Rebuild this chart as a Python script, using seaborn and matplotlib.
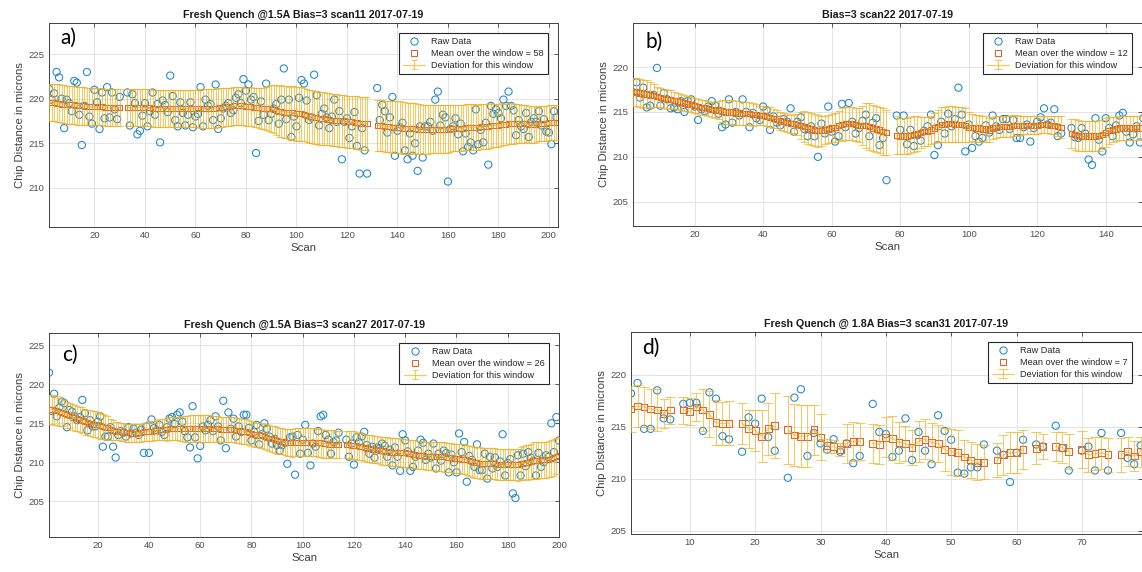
import numpy as np
import pandas as pd
import matplotlib
matplotlib.use("Agg")
import matplotlib.pyplot as plt
import seaborn as sns
from matplotlib.lines import Line2D

nan = np.nan

# ---------------- panel a: scan11, window 58 ----------------
raw_a_start = 2
raw_a = [
    221.1, 219.9, 220.6, 223.0, 222.4, 220.0, 216.7, 219.9, 219.5, 218.6,
    222.0, 221.8, 218.2, 214.8, 219.2, 223.0, 218.0, 217.2, 221.0, 219.6,
    216.6, 220.7, 217.8, 221.3, 217.9, 220.7, 218.8, 217.7, 220.2, nan,
    nan, 220.7, 217.0, 220.5, 219.5, 216.0, 216.4, 218.1, 219.5, 216.9,
    218.6, 220.7, 218.2, 219.4, 215.1, 219.8, 219.3, 218.5, 222.6, 220.3,
    217.6, 216.9, 219.6, 218.4, 217.0, 218.2, 219.6, 216.8, 218.0, 218.3,
    221.3, 216.9, 219.9, 219.2, 219.4, 217.6, 221.6, 216.6, 217.8, 218.9,
    219.2, 219.5, 218.4, 218.7, 220.1, 220.5, 219.5, 222.2, 220.9, 221.6,
    219.9, 220.2, 213.9, 217.5, 219.7, 218.2, 221.7, 217.6, 218.3, 218.9,
    219.4, 217.2, 219.9, 223.4, 217.7, 219.9, 215.7, 218.0, 216.9, 220.1,
    222.1, 221.7, 219.8, 217.6, 217.9, 222.7, 220.4, 217.0, 218.3, 218.9,
    217.9, 216.7, 218.0, 219.9, 217.4, 218.6, 213.2, 217.4, 217.8, 215.6,
    216.9, 218.5, 214.7, 211.6, 216.7, 214.2, 211.6, nan, nan, nan,
    221.2, 217.6, 219.3, 218.6, 216.2, 217.9, 220.2, 213.6, 216.4, 216.8,
    217.3, 214.2, 213.2, 216.1, 213.6, 215.0, 211.9, 216.9, 213.4, 216.9,
    216.9, 217.4, 216.4, 219.9, 220.8, 217.0, 218.2, 217.9, 210.7, 216.6,
    216.9, 217.8, 216.0, 217.2, 214.1, 216.1, 214.6, 215.1, 214.2, 218.8,
    214.9, 216.5, 215.1, 217.3, 212.6, 219.2, 218.3, 218.8, 218.4, 217.8,
    219.9, 219.2, 220.8, 219.2, 218.7, 215.9, 217.6, 216.9, 216.6, 218.4,
    215.7, 217.4, 217.8, 217.4, 218.6, 217.0, 217.7, 216.3, 216.2, 214.9,
    218.6, 217.9,
]
mean_a_start = 2
mean_a = [
    219.6, 219.6, 219.6, 219.5, 219.5, 219.4, 219.4, 219.3, 219.3, 219.3,
    219.3, 219.2, 219.2, 219.2, 219.2, 219.1, 219.1, 219.1, 219.1, 219.1,
    219.1, 219.1, 219.0, 219.0, 219.0, 219.0, 219.0, 219.0, 219.0, nan,
    nan, 219.0, 219.0, 219.0, 219.0, 219.0, 219.0, 219.0, 219.0, 219.0,
    219.0, 218.9, 218.9, 218.9, 218.9, 218.9, 218.9, 218.9, 218.9, 218.9,
    218.9, 218.9, 218.9, 218.9, 218.9, 218.9, 218.9, 218.9, 218.9, 218.9,
    218.9, 218.9, 218.9, 218.9, 218.9, 218.9, 218.9, 219.0, 219.0, 219.0,
    219.1, 219.1, 219.1, 219.2, 219.2, 219.2, 219.2, 219.2, 219.1, 219.1,
    219.1, 219.0, 219.0, 219.0, 218.9, 218.9, 218.9, 218.9, 218.9, 218.8,
    218.7, 218.6, 218.6, 218.5, 218.5, 218.4, 218.4, 218.4, 218.3, 218.3,
    218.3, 218.2, 218.1, 218.0, 218.0, 217.9, 217.9, 217.8, 217.8, 217.8,
    217.7, 217.7, 217.6, 217.6, 217.6, 217.5, 217.5, 217.5, 217.4, 217.4,
    217.4, 217.3, 217.3, 217.2, 217.2, 217.2, 217.2, nan, nan, nan,
    217.0, 217.0, 217.0, 216.9, 216.9, 216.9, 216.8, 216.8, 216.8, 216.8,
    216.7, 216.7, 216.7, 216.7, 216.7, 216.7, 216.6, 216.6, 216.6, 216.6,
    216.6, 216.6, 216.6, 216.6, 216.6, 216.6, 216.6, 216.6, 216.6, 216.7,
    216.7, 216.7, 216.7, 216.7, 216.7, 216.8, 216.8, 216.8, 216.8, 216.8,
    216.8, 216.9, 216.9, 216.9, 216.9, 217.0, 217.0, 217.0, 217.0, 217.1,
    217.1, 217.1, 217.2, 217.2, 217.2, 217.2, 217.2, 217.2, 217.2, 217.2,
    217.1, 217.1, 217.1, 217.1, 217.2, 217.2, 217.2, 217.2, 217.3, 217.3,
    217.3, 217.3,
]
dev_a = [
    2.1, 2.1, 2.1, 2.1, 2.1, 2.1, 2.1, 2.1, 2.1, 2.1,
    2.1, 2.1, 2.1, 2.1, 2.1, 2.1, 2.05, 2.05, 2.05, 2.05,
    2.05, 2.05, 2.05, 2.05, 2.05, 2.05, 2.05, 2.05, 2.05, nan,
    nan, 2.05, 2.05, 2.05, 2.05, 2.05, 2.05, 2.05, 2.05, 2.05,
    2.05, 2.05, 2.05, 2.05, 2.05, 2.1, 2.1, 2.1, 2.1, 2.1,
    2.1, 2.1, 2.1, 2.1, 2.1, 2.1, 2.1, 2.1, 2.1, 2.1,
    2.15, 2.15, 2.15, 2.15, 2.15, 2.15, 2.15, 2.15, 2.15, 2.15,
    2.15, 2.15, 2.15, 2.15, 2.15, 2.15, 2.15, 2.15, 2.15, 2.15,
    2.2, 2.2, 2.2, 2.25, 2.3, 2.35, 2.4, 2.5, 2.6, 2.7,
    2.8, 2.85, 2.9, 2.9, 2.95, 2.95, 3.0, 3.0, 3.0, 3.0,
    3.0, 3.0, 3.0, 3.0, 3.0, 3.0, 3.0, 3.0, 3.0, 3.0,
    2.95, 2.95, 2.95, 2.95, 2.95, 2.95, 2.95, 2.95, 2.95, 2.95,
    2.95, 2.95, 2.95, 2.95, 2.95, 2.95, 2.95, nan, nan, nan,
    2.9, 2.9, 2.9, 2.9, 2.9, 2.9, 2.9, 2.9, 2.9, 2.9,
    2.9, 2.9, 2.85, 2.85, 2.85, 2.8, 2.8, 2.8, 2.75, 2.75,
    2.75, 2.7, 2.7, 2.7, 2.7, 2.7, 2.7, 2.65, 2.65, 2.65,
    2.6, 2.6, 2.6, 2.6, 2.6, 2.6, 2.6, 2.6, 2.6, 2.6,
    2.55, 2.55, 2.5, 2.5, 2.5, 2.5, 2.45, 2.45, 2.4, 2.4,
    2.35, 2.35, 2.3, 2.3, 2.25, 2.2, 2.2, 2.15, 2.15, 2.1,
    2.1, 2.05, 2.05, 2.0, 2.0, 2.0, 1.95, 1.95, 1.95, 1.95,
    1.95, 1.95,
]

# ---------------- panel b: scan22, window 12 ----------------
raw_b_start = 2
raw_b = [
    217.2, 218.3, 216.6, 217.7, 215.5, 215.7, 216.9, 219.9, 215.7, 217.1,
    216.4, 215.4, 215.5, 215.3, 216.2, 215.0, 216.2, 216.4, 215.6, 214.1,
    215.3, 215.1, 215.6, 216.2, 215.7, 214.8, 213.3, 213.6, 216.4, 213.8,
    215.0, 214.6, 216.4, 215.0, 213.3, 214.9, 214.3, 214.1, 215.6, 215.2,
    213.0, 214.5, 213.8, 213.5, 214.2, 213.9, 215.4, 212.8, 213.9, 214.4,
    213.1, 212.3, 213.4, 212.3, 210.0, 213.7, 212.6, 215.6, 212.8, 211.7,
    212.3, 215.9, 213.3, 216.0, 213.9, 212.6, 213.2, 214.0, 214.7, 212.3,
    213.8, 214.3, 211.3, 212.1, 207.4, nan, nan, 214.6, 213.0, 214.6,
    211.4, 213.0, 211.2, 212.4, 211.8, 212.9, 213.4, 214.7, 210.2, 211.3,
    213.9, 212.6, 214.8, 213.4, 214.2, 217.7, 214.7, 210.6, 213.6, 211.0,
    212.3, 211.7, 212.1, 213.5, 212.7, 214.6, 213.4, 213.0, 214.2, 214.2,
    213.1, 214.1, 212.1, 212.1, 213.3, 213.6, 211.7, 213.2, 213.9, 214.4,
    215.4, 213.6, 213.8, 215.3, 212.3, 212.6, nan, nan, 213.2, 212.2,
    212.1, 213.2, 212.6, 209.7, 209.1, 214.3, 211.9, 210.6, 214.3, 213.2,
    212.3, 213.5, 214.6, 214.9, 212.8, 211.6, 212.5, 213.4, 211.6, 214.3,
]
mean_b_start = 2
mean_b = [
    217.2, 217.2, 217.1, 217.0, 217.0, 216.9, 216.8, 216.7, 216.6, 216.5,
    216.4, 216.4, 216.3, 216.2, 216.1, 216.0, 215.9, 215.8, 215.7, 215.6,
    215.5, 215.5, 215.4, 215.3, 215.2, 215.2, 215.1, 215.0, 215.0, 215.0,
    214.9, 214.9, 214.8, 214.8, 214.8, 214.7, 214.7, 214.6, 214.6, 214.5,
    214.4, 214.3, 214.2, 214.0, 213.9, 213.8, 213.7, 213.7, 213.6, 213.5,
    213.4, 213.2, 213.1, 213.0, 212.9, 212.9, 213.0, 213.1, 213.2, 213.3,
    213.5, 213.6, 213.7, 213.7, 213.7, 213.6, 213.5, 213.5, 213.5, 213.4,
    213.2, 213.1, 213.0, 212.8, 212.7, nan, nan, 212.4, 212.3, 212.3,
    212.3, 212.4, 212.5, 212.6, 212.7, 212.8, 212.8, 213.0, 213.2, 213.4,
    213.6, 213.6, 213.7, 213.7, 213.6, 213.6, 213.6, 213.5, 213.3, 213.3,
    213.2, 213.2, 213.1, 213.1, 213.0, 213.2, 213.3, 213.4, 213.4, 213.4,
    213.4, 213.5, 213.5, 213.5, 213.5, 213.5, 213.5, 213.5, 213.5, 213.6,
    213.6, 213.6, 213.5, 213.5, 213.4, 213.3, nan, nan, 212.6, 212.5,
    212.4, 212.3, 212.3, 212.3, 212.3, 212.3, 212.4, 212.5, 212.7, 212.9,
    213.0, 213.1, 213.2, 213.2, 213.2, 213.2, 213.2, 213.2, 213.2,
]
dev_b = [
    1.55, 1.55, 1.55, 1.55, 1.5, 1.45, 1.3, 1.1, 1.05, 1.05,
    1.05, 1.0, 0.95, 0.9, 0.85, 0.85, 0.85, 0.85, 0.85, 0.85,
    0.85, 0.85, 0.85, 0.85, 0.9, 1.0, 1.2, 1.3, 1.3, 1.3,
    1.3, 1.3, 1.3, 1.3, 1.3, 1.25, 1.2, 1.1, 1.1, 1.1,
    1.1, 1.05, 1.0, 1.0, 1.0, 1.0, 1.0, 1.05, 1.2, 1.5,
    1.7, 1.75, 1.75, 1.75, 1.75, 1.7, 1.6, 1.6, 1.6, 1.6,
    1.65, 1.8, 1.8, 1.8, 1.8, 1.8, 1.9, 2.2, 2.5, 2.6,
    2.6, 2.6, 2.6, 2.6, 2.5, nan, nan, 2.1, 2.0, 2.0,
    2.0, 2.0, 2.0, 1.9, 1.7, 1.6, 1.6, 1.6, 1.7, 1.8,
    2.0, 2.0, 2.0, 2.0, 2.0, 2.0, 2.0, 1.9, 1.7, 1.5,
    1.5, 1.5, 1.5, 1.4, 1.3, 1.2, 1.2, 1.2, 1.2, 1.2,
    1.2, 1.2, 1.2, 1.1, 1.0, 1.0, 1.0, 1.0, 1.0, 1.0,
    1.0, 1.0, 1.0, 1.0, 1.1, 1.2, nan, nan, 1.6, 1.7,
    1.7, 1.7, 1.7, 1.7, 1.7, 1.7, 1.7, 1.65, 1.6, 1.5,
    1.4, 1.35, 1.3, 1.3, 1.3, 1.3, 1.3, 1.3, 1.3,
]

# ---------------- panel c: scan27, window 26 ----------------
raw_c_start = 1
raw_c = [
    221.5, 216.6, 218.8, 215.9, 217.0, 217.8, 217.6, 214.5, 216.7, 216.5,
    215.9, 215.4, 215.8, 218.0, 216.3, 214.1, 215.4, 214.6, 214.6, 215.2,
    215.9, 212.0, 213.3, 213.3, 214.5, 212.0, 210.6, 213.5, 214.0, 213.8,
    213.3, 214.5, 213.7, 214.3, 213.8, 213.5, 214.2, 211.2, 214.6, 211.2,
    215.5, 214.4, 214.1, 214.8, 213.9, 213.5, 214.5, 215.6, 215.8, 214.9,
    216.1, 216.4, 215.2, 214.0, 213.2, 211.9, 217.2, 213.2, 210.5, 212.1,
    214.6, 214.1, 214.8, 215.4, 214.0, 215.9, 214.6, 212.8, 217.9, 211.8,
    216.4, 214.3, 215.6, 213.3, 214.6, 213.9, 216.1, 216.1, 214.4, 212.8,
    213.9, 214.8, 212.3, 213.6, 215.0, 214.3, 213.3, 212.4, 213.0, 212.2,
    211.5, 212.2, 212.5, 209.8, 213.2, 213.3, 208.4, 213.5, 211.1, 212.9,
    214.8, 211.2, 209.6, 212.4, 212.0, 214.0, 215.9, 216.1, 213.5, 212.9,
    211.1, 212.6, 212.8, 213.8, nan, nan, 212.9, 210.7, 212.4, 209.7,
    213.2, 212.6, 213.3, 213.9, 212.2, 211.1, 212.0, 210.6, 211.9, 211.8,
    212.4, 212.1, 210.7, 211.6, 209.6, 211.9, 210.7, 208.9, 213.6, 212.8,
    211.4, 208.9, 209.4, 210.7, 211.5, 212.9, 212.5, 210.3, 211.1, 210.6,
    212.4, 209.2, 211.1, 210.2, 211.5, 211.2, 208.7, 211.0, 210.0, 208.7,
    213.7, 211.3, 212.6, 207.5, 210.8, 210.3, 209.4, 212.3, 209.0, 209.0,
    211.1, 207.9, 210.7, 209.2, 210.6, 209.4, 210.1, 213.6, 208.3, 209.9,
    210.4, 206.0, 205.4, 210.9, 208.3, 211.1, 209.5, 211.3, 210.6, 210.2,
    208.3, 211.2, 209.4, 210.0, 210.9, 210.7, 215.0, 211.3, 215.8, 212.8,
]
mean_c_start = 1
mean_c = [
    216.8, 216.8, 216.7, 216.6, 216.5, 216.4, 216.3, 216.1, 216.0, 215.8,
    215.7, 215.6, 215.5, 215.4, 215.2, 215.1, 215.0, 214.9, 214.9, 214.8,
    214.7, 214.6, 214.5, 214.4, 214.2, 214.1, 214.0, 214.0, 213.9, 213.9,
    213.8, 213.8, 213.7, 213.7, 213.7, 213.8, 213.8, 213.9, 213.9, 214.0,
    214.0, 214.1, 214.1, 214.2, 214.2, 214.2, 214.2, 214.3, 214.3, 214.3,
    214.3, 214.3, 214.3, 214.3, 214.3, 214.3, 214.3, 214.3, 214.3, 214.3,
    214.3, 214.3, 214.3, 214.3, 214.3, 214.3, 214.3, 214.2, 214.2, 214.2,
    214.2, 214.2, 214.2, 214.1, 214.1, 214.0, 213.9, 213.9, 213.8, 213.7,
    213.6, 213.5, 213.5, 213.4, 213.3, 213.2, 213.1, 213.0, 212.9, 212.8,
    212.7, 212.7, 212.6, 212.5, 212.5, 212.5, 212.6, 212.6, 212.6, 212.6,
    212.6, 212.6, 212.6, 212.6, 212.6, 212.5, 212.5, 212.4, 212.4, 212.3,
    212.3, 212.3, 212.3, 212.3, nan, nan, 212.3, 212.3, 212.2, 212.2,
    212.1, 212.0, 212.0, 211.9, 211.8, 211.8, 211.7, 211.6, 211.6, 211.5,
    211.5, 211.4, 211.4, 211.3, 211.3, 211.3, 211.3, 211.2, 211.2, 211.2,
    211.1, 211.1, 211.0, 211.0, 210.9, 210.9, 210.9, 210.8, 210.8, 210.8,
    210.8, 210.7, 210.7, 210.7, 210.7, 210.6, 210.6, 210.6, 210.5, 210.5,
    210.5, 210.4, 210.4, 210.3, 210.2, 210.1, 210.0, 210.0, 209.9, 209.8,
    209.8, 209.8, 209.8, 209.8, 209.8, 209.7, 209.7, 209.7, 209.7, 209.7,
    209.7, 209.7, 209.7, 209.7, 209.8, 209.9, 210.0, 210.0, 210.1, 210.2,
    210.2, 210.2, 210.3, 210.3, 210.3, 210.4, 210.5, 210.6, 210.8, 210.9,
]
dev_c = [
    1.9, 1.9, 1.9, 1.85, 1.8, 1.7, 1.65, 1.65, 1.65, 1.65,
    1.65, 1.65, 1.65, 1.65, 1.65, 1.65, 1.65, 1.65, 1.65, 1.65,
    1.65, 1.6, 1.55, 1.5, 1.4, 1.3, 1.2, 1.15, 1.15, 1.15,
    1.15, 1.15, 1.15, 1.15, 1.15, 1.15, 1.15, 1.2, 1.2, 1.25,
    1.25, 1.25, 1.3, 1.3, 1.35, 1.4, 1.45, 1.5, 1.5, 1.5,
    1.5, 1.55, 1.6, 1.65, 1.7, 1.75, 1.75, 1.75, 1.75, 1.75,
    1.75, 1.75, 1.75, 1.75, 1.7, 1.65, 1.6, 1.6, 1.6, 1.6,
    1.6, 1.6, 1.6, 1.6, 1.6, 1.6, 1.6, 1.6, 1.6, 1.6,
    1.6, 1.6, 1.6, 1.6, 1.65, 1.65, 1.7, 1.7, 1.7, 1.7,
    1.7, 1.7, 1.7, 1.75, 1.75, 1.8, 1.8, 1.8, 1.8, 1.8,
    1.8, 1.8, 1.8, 1.8, 1.8, 1.8, 1.8, 1.8, 1.8, 1.8,
    1.8, 1.8, 1.75, 1.75, nan, nan, 1.75, 1.75, 1.75, 1.75,
    1.75, 1.75, 1.75, 1.75, 1.75, 1.75, 1.75, 1.75, 1.75, 1.75,
    1.8, 1.8, 1.8, 1.8, 1.8, 1.8, 1.8, 1.8, 1.8, 1.8,
    1.8, 1.8, 1.8, 1.8, 1.8, 1.8, 1.8, 1.8, 1.8, 1.8,
    1.85, 1.85, 1.85, 1.85, 1.9, 1.9, 1.9, 1.9, 1.9, 1.9,
    1.9, 1.9, 1.95, 1.95, 1.95, 2.0, 2.0, 2.0, 2.0, 2.0,
    2.0, 2.0, 2.0, 2.0, 2.0, 2.0, 2.0, 2.0, 2.0, 2.0,
    2.0, 2.0, 2.0, 2.05, 2.1, 2.15, 2.2, 2.25, 2.3, 2.35,
    2.35, 2.35, 2.35, 2.35, 2.35, 2.35, 2.35, 2.35, 2.35, 2.35,
]

# ---------------- panel d: scan31, window 7 ----------------
raw_d_start = 1
raw_d = [
    218.2, 219.2, 214.8, 214.8, 218.5, 215.8, 215.7, nan, 217.2, 217.3,
    217.3, 214.6, 218.3, 217.7, 214.1, 213.8, nan, 212.6, 215.9, 215.3,
    217.7, 214.0, 212.7, nan, 210.1, 217.8, 218.6, 212.2, 214.4, 213.4,
    212.8, 213.8, 212.6, 213.4, 211.5, 212.2, nan, 217.2, 214.5, 214.3,
    212.1, 212.7, 215.8, 211.8, 214.5, 212.7, 211.4, 216.1, 214.6, 213.75,
    210.6, 210.5, 211.1, 211.1, 213.3, nan, 212.7, 212.3, 209.7, 212.5,
    213.75, nan, 213.3, 213.1, nan, 215.1, 212.95, 210.8, nan, 212.7,
    213.1, 210.8, 214.4, 210.8, nan, 214.4, 212.0, 211.4, 213.2,
]
mean_d_start = 1
mean_d = [
    216.7, 217.0, 216.9, 216.7, 216.6, 216.3, 216.6, nan, 216.6, 216.5,
    216.9, 216.6, 216.2, 215.4, 215.3, 215.35, nan, 215.3, 214.8, 214.65,
    214.1, 214.8, 215.1, nan, 214.7, 214.2, 214.1, 214.1, 214.7, 214.0,
    213.2, 213.1, 212.8, 213.4, 213.6, 213.6, nan, 213.4, 213.3, 214.0,
    213.9, 213.5, 213.4, 213.0, 213.6, 213.8, 213.5, 213.4, 212.8, 212.6,
    212.5, 212.1, 211.8, 211.6, 211.6, nan, 211.8, 212.3, 212.5, 212.5,
    212.8, nan, 212.95, 213.1, nan, 213.1, 213.0, 212.6, nan, 212.8,
    212.3, 212.4, 212.5, 212.3, nan, 212.3, 212.6, 212.2, 212.6,
]
dev_d = [
    2.2, 2.0, 1.9, 1.9, 2.0, 1.4, 1.3, nan, 1.3, 1.3,
    1.3, 2.0, 2.2, 2.2, 2.1, 2.1, nan, 1.95, 1.8, 2.0,
    2.5, 2.5, 3.1, nan, 3.3, 3.0, 3.0, 3.0, 2.4, 2.2,
    0.6, 0.6, 0.6, 1.9, 1.9, 1.8, nan, 1.9, 1.9, 1.9,
    2.1, 2.0, 1.7, 1.7, 2.0, 1.9, 1.9, 1.8, 2.05, 2.2,
    2.2, 1.65, 1.75, 1.7, 1.6, nan, 1.6, 1.9, 1.95, 1.95,
    1.9, nan, 1.55, 1.2, nan, 1.4, 1.45, 1.7, nan, 1.8,
    1.6, 1.6, 1.55, 1.65, nan, 1.65, 1.4, 1.45, 1.45,
]

titles = [
    "Fresh Quench @1.5A Bias=3 scan11 2017-07-19",
    "Bias=3 scan22 2017-07-19",
    "Fresh Quench @1.5A Bias=3 scan27 2017-07-19",
    "Fresh Quench @ 1.8A Bias=3 scan31 2017-07-19",
]
tags = ["a)", "b)", "c)", "d)"]
windows = [58, 12, 26, 7]
legend_labels = ["Raw Data", "Mean over the window = {}", "Deviation for this window"]

BLUE = "#1f86cc"
RED = "#E0612A"
YELLOW = "#EDB120"
AXC = "#404040"

sns.set_theme(style="white")
plt.rcParams["font.family"] = ["Liberation Sans", "DejaVu Sans"]

W, H = 1142, 572
fig = plt.figure(figsize=(W / 100, H / 100), dpi=100)


def pixel_axes(left, top, right, bottom):
    return fig.add_axes([left / W, 1 - bottom / H, (right - left) / W, (bottom - top) / H])


def draw_panel(ax, raw_start, raw, mean_start, mean, dev, window, title, tag,
               xlim, ylim, xticks, yticks, tag_pos, cap, sq_size):
    raw_df = pd.DataFrame({"Scan": np.arange(raw_start, raw_start + len(raw)),
                           "Distance": raw}).dropna()
    win_df = pd.DataFrame({"Scan": np.arange(mean_start, mean_start + len(mean)),
                           "Mean": mean, "Dev": dev})

    # raw scans as hollow circles
    sns.scatterplot(data=raw_df, x="Scan", y="Distance", ax=ax, marker="o", s=27,
                    facecolor="none", edgecolor=BLUE, linewidth=0.75, zorder=2,
                    legend=False)
    # moving-window mean as hollow squares
    sns.scatterplot(data=win_df.dropna(), x="Scan", y="Mean", ax=ax, marker="s",
                    s=sq_size, facecolor="none", edgecolor=RED, linewidth=0.75,
                    zorder=3, legend=False)
    # moving-window deviation drawn over the means
    eb = ax.errorbar(win_df["Scan"], win_df["Mean"], yerr=win_df["Dev"], fmt="-",
                     color=YELLOW, ecolor=YELLOW, lw=0.9, elinewidth=0.8,
                     capsize=cap, capthick=0.8, alpha=0.68, zorder=4)

    ax.set_xlim(*xlim)
    ax.set_ylim(*ylim)
    ax.set_xticks(xticks)
    ax.set_yticks(yticks)
    ax.set_axisbelow(True)
    ax.grid(True, color="#e3e3e3", linewidth=0.7)
    ax.tick_params(direction="in", length=3, width=0.6, color=AXC, labelsize=6.8,
                   labelcolor="#505050", top=True, right=True, pad=3)
    for sp in ax.spines.values():
        sp.set_color(AXC)
        sp.set_linewidth(0.7)
    ax.set_xlabel("Scan", fontsize=8.2, color="#404040", labelpad=2)
    ax.set_ylabel("Chip Distance in microns", fontsize=8.2, color="#404040", labelpad=3)
    ax.set_title(title, fontsize=7.7, fontweight="bold", color="#1a1a1a", pad=3.5)
    ax.text(tag_pos[0], tag_pos[1], tag, transform=ax.transAxes, fontsize=15,
            family=["Lato", "DejaVu Sans"], va="center", ha="left", color="black")

    h_raw = Line2D([], [], ls="none", marker="o", ms=5.2, mfc="none", mec=BLUE, mew=0.75)
    h_mean = Line2D([], [], ls="none", marker="s", ms=4.0, mfc="none", mec=RED, mew=0.75)
    labels = [legend_labels[0], legend_labels[1].format(window), legend_labels[2]]
    leg = ax.legend([h_raw, h_mean, eb], labels, loc="upper right", fontsize=6.6,
                    frameon=True, fancybox=False, framealpha=1, edgecolor="#262626",
                    borderaxespad=1.1, handlelength=2.4, handletextpad=0.7,
                    labelspacing=0.3, borderpad=0.45)
    leg.get_frame().set_linewidth(0.8)
    leg.set_zorder(10)
    for t in leg.get_texts():
        t.set_color("#262626")


ax_a = pixel_axes(49, 23, 558, 227)
draw_panel(ax_a, raw_a_start, raw_a, mean_a_start, mean_a, dev_a, windows[0], titles[0], tags[0],
           (2, 203.6), (205.6, 228.5), range(20, 201, 20), [210, 215, 220, 225],
           (0.022, 0.925), 2.2, 13)

ax_b = pixel_axes(633, 23, 1142, 226)
draw_panel(ax_b, raw_b_start, raw_b, mean_b_start, mean_b, dev_b, windows[1], titles[1], tags[1],
           (2, 150.6), (202.3, 224.9), range(20, 141, 20), [205, 210, 215, 220],
           (0.025, 0.905), 2.6, 15)

ax_c = pixel_axes(49, 333, 559, 537)
draw_panel(ax_c, raw_c_start, raw_c, mean_c_start, mean_c, dev_c, windows[2], titles[2], tags[2],
           (1, 200), (200.4, 226.6), range(20, 201, 20), [205, 210, 215, 220, 225],
           (0.025, 0.895), 2.2, 13)

ax_d = pixel_axes(631, 332, 1142, 534)
draw_panel(ax_d, raw_d_start, raw_d, mean_d_start, mean_d, dev_d, windows[3], titles[3], tags[3],
           (1, 79.2), (204.7, 224.1), range(10, 71, 10), [205, 210, 215, 220],
           (0.022, 0.92), 3.3, 24)

fig.savefig("out.png", dpi=100)
